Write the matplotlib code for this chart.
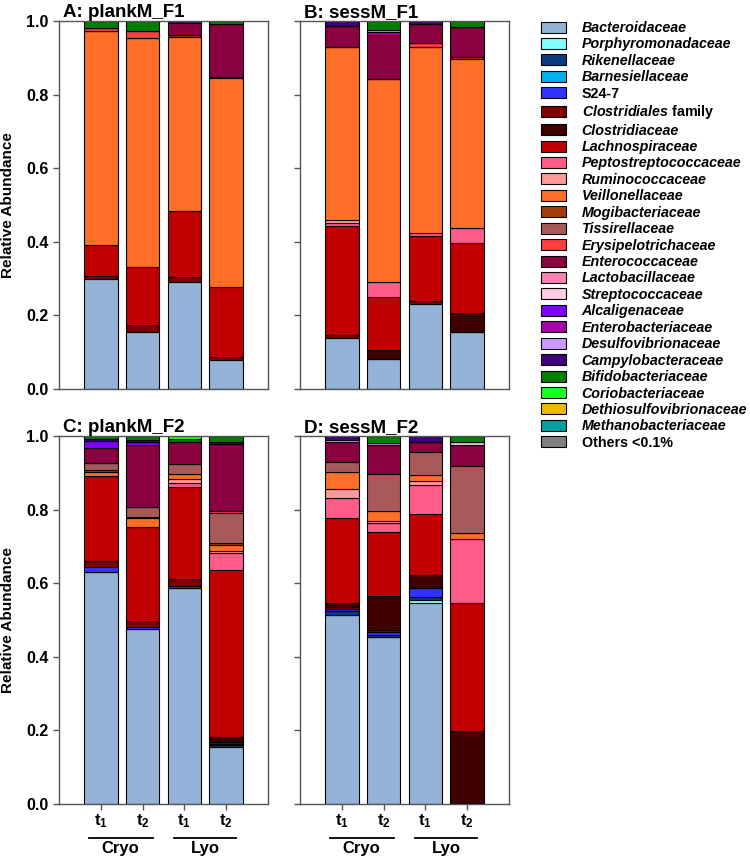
import matplotlib
matplotlib.use("Agg")
import matplotlib.pyplot as plt
import matplotlib.transforms as mtransforms
from matplotlib.patches import Patch
import numpy as np

plt.rcParams['font.family'] = ['Liberation Sans', 'DejaVu Sans']
plt.rcParams['font.weight'] = 'bold'
plt.rcParams['mathtext.fontset'] = 'custom'
plt.rcParams['mathtext.rm'] = 'Liberation Sans:bold'
plt.rcParams['mathtext.bf'] = 'Liberation Sans:bold'
plt.rcParams['mathtext.it'] = 'Liberation Sans:bold:italic'

# families in stacking order (bottom -> top), same as legend order
families = [
    "Bacteroidaceae", "Porphyromonadaceae", "Rikenellaceae", "Barnesiellaceae",
    "S24-7", "Clostridiales family", "Clostridiaceae", "Lachnospiraceae",
    "Peptostreptococcaceae", "Ruminococcaceae", "Veillonellaceae",
    "Mogibacteriaceae", "Tissirellaceae", "Erysipelotrichaceae",
    "Enterococcaceae", "Lactobacillaceae", "Streptococcaceae", "Alcaligenaceae",
    "Enterobacteriaceae", "Desulfovibrionaceae", "Campylobacteraceae",
    "Bifidobacteriaceae", "Coriobacteriaceae", "Dethiosulfovibrionaceae",
    "Methanobacteriaceae", "Others <0.1%",
]
family_colors = [
    "#95b3d7", "#80ffff", "#0b3d7e", "#00b0f0",
    "#3333ff", "#7f0000", "#3f0000", "#c00000",
    "#ff5c8a", "#ff9999", "#ff6f28",
    "#a63a0a", "#a85a5a", "#ff3f3f",
    "#8b0040", "#ff7fb2", "#ffcce5", "#7f00ff",
    "#aa00aa", "#cc99ff", "#3f007f",
    "#007f00", "#1eff1e", "#efb800",
    "#00a0a0", "#808080",
]
not_italic = ["S24-7", "Others <0.1%"]

sample_labels = ["t$_1$", "t$_2$", "t$_1$", "t$_2$"]
group_labels = ["Cryo", "Lyo"]

# relative abundances, four samples per panel (Cryo t1, Cryo t2, Lyo t1, Lyo t2)
plankM_F1 = {
    "Bacteroidaceae":       [0.298, 0.156, 0.292, 0.080],
    "Clostridiales family": [0.008, 0.019, 0.012, 0.006],
    "Lachnospiraceae":      [0.086, 0.156, 0.181, 0.191],
    "Veillonellaceae":      [0.580, 0.624, 0.472, 0.567],
    "Mogibacteriaceae":     [0.000, 0.000, 0.004, 0.004],
    "Erysipelotrichaceae":  [0.010, 0.019, 0.000, 0.000],
    "Enterococcaceae":      [0.000, 0.000, 0.033, 0.143],
    "Campylobacteraceae":   [0.000, 0.000, 0.006, 0.000],
    "Bifidobacteriaceae":   [0.018, 0.026, 0.000, 0.009],
}
sessM_F1 = {
    "Bacteroidaceae":        [0.139, 0.081, 0.231, 0.154],
    "Clostridiales family":  [0.009, 0.000, 0.009, 0.000],
    "Clostridiaceae":        [0.000, 0.025, 0.000, 0.053],
    "Lachnospiraceae":       [0.295, 0.145, 0.177, 0.190],
    "Peptostreptococcaceae": [0.008, 0.039, 0.008, 0.041],
    "Ruminococcaceae":       [0.007, 0.000, 0.000, 0.000],
    "Veillonellaceae":       [0.472, 0.552, 0.503, 0.458],
    "Mogibacteriaceae":      [0.000, 0.000, 0.000, 0.005],
    "Erysipelotrichaceae":   [0.000, 0.000, 0.011, 0.000],
    "Enterococcaceae":       [0.057, 0.121, 0.053, 0.084],
    "Enterobacteriaceae":    [0.000, 0.007, 0.000, 0.000],
    "Desulfovibrionaceae":   [0.000, 0.006, 0.000, 0.000],
    "Campylobacteraceae":    [0.013, 0.000, 0.008, 0.000],
    "Bifidobacteriaceae":    [0.000, 0.024, 0.000, 0.015],
}
plankM_F2 = {
    "Bacteroidaceae":        [0.631, 0.475, 0.586, 0.156],
    "Rikenellaceae":         [0.000, 0.000, 0.000, 0.004],
    "S24-7":                 [0.014, 0.005, 0.006, 0.003],
    "Clostridiales family":  [0.016, 0.017, 0.019, 0.005],
    "Clostridiaceae":        [0.000, 0.000, 0.000, 0.015],
    "Lachnospiraceae":       [0.229, 0.257, 0.251, 0.453],
    "Peptostreptococcaceae": [0.000, 0.000, 0.011, 0.045],
    "Ruminococcaceae":       [0.000, 0.000, 0.009, 0.007],
    "Veillonellaceae":       [0.013, 0.024, 0.014, 0.016],
    "Mogibacteriaceae":      [0.005, 0.003, 0.000, 0.004],
    "Tissirellaceae":        [0.018, 0.025, 0.028, 0.084],
    "Erysipelotrichaceae":   [0.000, 0.000, 0.000, 0.005],
    "Enterococcaceae":       [0.042, 0.170, 0.061, 0.181],
    "Alcaligenaceae":        [0.019, 0.009, 0.000, 0.000],
    "Campylobacteraceae":    [0.006, 0.004, 0.000, 0.007],
    "Bifidobacteriaceae":    [0.007, 0.011, 0.007, 0.015],
    "Coriobacteriaceae":     [0.000, 0.000, 0.008, 0.000],
}
sessM_F2 = {
    "Bacteroidaceae":        [0.514, 0.455, 0.547, 0.003],
    "Porphyromonadaceae":    [0.000, 0.000, 0.007, 0.000],
    "Rikenellaceae":         [0.010, 0.004, 0.009, 0.000],
    "S24-7":                 [0.005, 0.008, 0.023, 0.000],
    "Clostridiales family":  [0.005, 0.006, 0.000, 0.000],
    "Clostridiaceae":        [0.011, 0.092, 0.035, 0.195],
    "Lachnospiraceae":       [0.233, 0.175, 0.166, 0.347],
    "Peptostreptococcaceae": [0.053, 0.024, 0.080, 0.176],
    "Ruminococcaceae":       [0.025, 0.005, 0.011, 0.000],
    "Veillonellaceae":       [0.047, 0.028, 0.016, 0.015],
    "Tissirellaceae":        [0.025, 0.099, 0.062, 0.183],
    "Enterococcaceae":       [0.055, 0.080, 0.029, 0.057],
    "Streptococcaceae":      [0.000, 0.000, 0.000, 0.007],
    "Desulfovibrionaceae":   [0.006, 0.006, 0.000, 0.000],
    "Campylobacteraceae":    [0.011, 0.000, 0.015, 0.000],
    "Bifidobacteriaceae":    [0.000, 0.018, 0.000, 0.017],
}

panels = [
    ("A: plankM_F1", plankM_F1),
    ("B: sessM_F1", sessM_F1),
    ("C: plankM_F2", plankM_F2),
    ("D: sessM_F2", sessM_F2),
]

fig = plt.figure(figsize=(7.5, 8.58), dpi=100)
W, H = 750, 858
boxes = [(59, 21), (300, 21), (59, 436), (300, 436)]  # left, top in pixels
ax_w, ax_h = 209, 368
spine_col = "#555555"

x = np.arange(1, 5)
for i, ((title, data), (left, top)) in enumerate(zip(panels, boxes)):
    ax = fig.add_axes([left / W, 1 - (top + ax_h) / H, ax_w / W, ax_h / H])
    bottom = np.zeros(4)
    for fam, col in zip(families, family_colors):
        vals = np.array(data.get(fam, [0, 0, 0, 0]), dtype=float)
        if not vals.any():
            continue
        ax.bar(x, vals, bottom=bottom, width=0.8, color=col,
               edgecolor="black", linewidth=0.8, zorder=2)
        bottom += vals

    ax.set_xlim(0, 5)
    ax.set_ylim(0, 1)
    ax.set_yticks([0, 0.2, 0.4, 0.6, 0.8, 1.0])
    for sp in ax.spines.values():
        sp.set_color(spine_col)
        sp.set_linewidth(1.0)
    ax.tick_params(direction="out", length=4, width=1, color=spine_col,
                   labelsize=11.5)
    ax.set_title(title, loc="left", fontsize=13.5, fontweight="bold", pad=2,
                 x=0.02)

    if i % 2 == 0:
        ax.set_yticklabels([f"{v:.1f}" for v in ax.get_yticks()])
        ax.set_ylabel("Relative Abundance", fontsize=11, fontweight="bold",
                      labelpad=8)
    else:
        ax.set_yticklabels([])

    if i >= 2:
        ax.set_xticks(x)
        ax.set_xticklabels(sample_labels, fontsize=12)
        ax.tick_params(axis="x", pad=2)
        trans = mtransforms.blended_transform_factory(ax.transData, ax.transAxes)
        for (x0, x1), name in zip([(0.71, 2.24), (2.76, 4.24)], group_labels):
            ax.plot([x0, x1], [-0.093, -0.093], color="black", lw=1.3,
                    transform=trans, clip_on=False)
            ax.text((x0 + x1) / 2, -0.122, name, transform=trans, ha="center",
                    va="center", fontsize=12, fontweight="bold")
    else:
        ax.set_xticks([])

handles = [Patch(facecolor=c, edgecolor="black", linewidth=0.8)
           for c in family_colors]
labels = [r"$\mathit{Clostridiales}$ family" if f == "Clostridiales family" else f
          for f in families]
leg = fig.legend(handles, labels, loc="upper left",
                 bbox_to_anchor=(541 / W, 1 - 21 / H), frameon=False,
                 fontsize=10.3, handlelength=1.75, handleheight=0.8,
                 handletextpad=1.1, labelspacing=0.17, borderpad=0,
                 borderaxespad=0)
for txt, fam in zip(leg.get_texts(), families):
    txt.set_fontweight("bold")
    if fam not in not_italic and fam != "Clostridiales family":
        txt.set_fontstyle("italic")

fig.savefig("out.png", dpi=100)
